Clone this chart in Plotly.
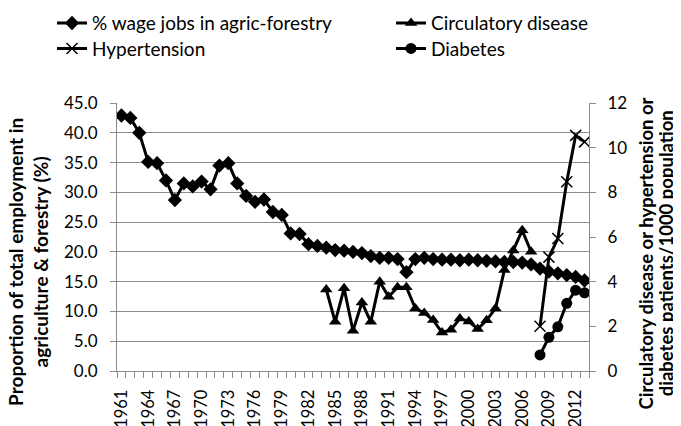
import plotly.graph_objects as go

years = [1961, 1962, 1963, 1964, 1965, 1966, 1967, 1968, 1969, 1970,
         1971, 1972, 1973, 1974, 1975, 1976, 1977, 1978, 1979, 1980,
         1981, 1982, 1983, 1984, 1985, 1986, 1987, 1988, 1989, 1990,
         1991, 1992, 1993, 1994, 1995, 1996, 1997, 1998, 1999, 2000,
         2001, 2002, 2003, 2004, 2005, 2006, 2007, 2008, 2009, 2010,
         2011, 2012, 2013]
wage_pct = [42.9, 42.5, 40.0, 35.1, 34.9, 32.0, 28.7, 31.5, 31.0, 31.8,
            30.5, 34.5, 34.9, 31.5, 29.4, 28.4, 28.8, 26.7, 26.2, 23.1,
            23.0, 21.3, 21.0, 20.7, 20.3, 20.2, 20.0, 19.8, 19.3, 19.0,
            19.0, 18.8, 16.6, 18.8, 19.0, 18.8, 18.7, 18.7, 18.6, 18.7,
            18.6, 18.5, 18.4, 18.3, 18.3, 18.2, 17.9, 17.2, 16.7, 16.4,
            16.1, 15.8, 15.2]

circ_years = [1984, 1985, 1986, 1987, 1988, 1989, 1990, 1991, 1992, 1993,
              1994, 1995, 1996, 1997, 1998, 1999, 2000, 2001, 2002, 2003,
              2004, 2005, 2006, 2007]
circulatory = [3.65, 2.2, 3.7, 1.8, 3.07, 2.2, 4.0, 3.32, 3.75, 3.75,
               2.8, 2.6, 2.28, 1.72, 1.85, 2.35, 2.22, 1.88, 2.27, 2.8,
               4.52, 5.4, 6.3, 5.34]

hyp_years = [2008, 2009, 2010, 2011, 2012, 2013]
hypertension = [2.0, 5.1, 5.93, 8.47, 10.55, 10.26]

diab_years = [2008, 2009, 2010, 2011, 2012, 2013]
diabetes = [0.72, 1.51, 1.98, 3.03, 3.62, 3.5]

x_tick_years = [1961, 1964, 1967, 1970, 1973, 1976, 1979, 1982, 1985,
                1988, 1991, 1994, 1997, 2000, 2003, 2006, 2009, 2012]

left_title = ["Proportion of total employment in",
              "agriculture &amp; forestry (%)"]
right_title = ["Circulatory disease or hypertension or",
               "diabetes patients/1000 population"]

FONT = "Lato"
GRID = "#8c8c8c"
LEG_FONT = 19

fig = go.Figure()
fig.add_trace(go.Scatter(
    x=years, y=wage_pct, name="% wage jobs in agric-forestry",
    mode="lines+markers", line=dict(color="black", width=3),
    marker=dict(symbol="diamond", size=11, color="black"),
    legend="legend"))
fig.add_trace(go.Scatter(
    x=circ_years, y=circulatory, name="Circulatory disease", yaxis="y2",
    mode="lines+markers", line=dict(color="black", width=3),
    marker=dict(symbol="triangle-up", size=11, color="black"),
    legend="legend2"))
fig.add_trace(go.Scatter(
    x=hyp_years, y=hypertension, name="Hypertension", yaxis="y2",
    mode="lines+markers", line=dict(color="black", width=3),
    marker=dict(symbol="x-thin", size=11, color="black",
                line=dict(color="black", width=1.5)),
    legend="legend3"))
fig.add_trace(go.Scatter(
    x=diab_years, y=diabetes, name="Diabetes", yaxis="y2",
    mode="lines+markers", line=dict(color="black", width=3),
    marker=dict(symbol="circle", size=11, color="black"),
    legend="legend4"))


def leg(x, y):
    return dict(x=x, y=y, xanchor="left", yanchor="middle",
                bgcolor="rgba(0,0,0,0)", font=dict(size=LEG_FONT))


# The page body adds an 8px offset, so the figure is sized to fit the window.
fig.update_layout(
    width=673, height=418,
    margin=dict(l=109, r=92, t=95, b=55, autoexpand=False),
    paper_bgcolor="white", plot_bgcolor="white",
    font=dict(family=FONT, size=17, color="black"),
    showlegend=True,
    legend=leg(-0.1377, 1.298),
    legend2=leg(0.5805, 1.298),
    legend3=leg(-0.1377, 1.203),
    legend4=leg(0.5805, 1.203),
    xaxis=dict(
        range=[1960.5, 2013.5], tickmode="array", tickvals=x_tick_years,
        ticktext=[str(v) for v in x_tick_years], tickangle=-90,
        ticks="outside", ticklen=6, tickcolor="rgba(0,0,0,0)",
        ticklabelstandoff=5, automargin=False,
        minor=dict(ticks="outside", tick0=1960.5, dtick=1, ticklen=6,
                   tickcolor=GRID, showgrid=False),
        showline=True, linecolor=GRID, linewidth=1, showgrid=False,
        zeroline=False, tickfont=dict(size=16.5)),
    yaxis=dict(
        range=[0, 45], dtick=5, tick0=0, tickformat=".1f",
        ticks="outside", ticklen=6, tickcolor=GRID,
        ticklabelstandoff=9, automargin=False,
        showline=True, linecolor=GRID, linewidth=1,
        showgrid=True, gridcolor=GRID, gridwidth=1, zeroline=False,
        tickfont=dict(size=17)),
    yaxis2=dict(
        range=[0, 12], dtick=2, tick0=0, overlaying="y", side="right",
        ticks="outside", ticklen=6, tickcolor=GRID,
        ticklabelstandoff=8, automargin=False,
        showline=True, linecolor=GRID, linewidth=1,
        showgrid=False, zeroline=False, tickfont=dict(size=17)),
)

fig.add_annotation(
    text="<b>" + left_title[0] + "</b><br><b>" + left_title[1] + "</b>",
    xref="paper", yref="paper", x=-0.1875, y=0.405, xanchor="center",
    yanchor="middle", textangle=-90, showarrow=False,
    font=dict(family=FONT, size=19, color="black"), align="center")
for line_text, xpos in zip(right_title, [1.1215, 1.1635]):
    fig.add_annotation(
        text="<b>" + line_text + "</b>",
        xref="paper", yref="paper", x=xpos, y=0.44, xanchor="center",
        yanchor="middle", textangle=-90, showarrow=False,
        font=dict(family=FONT, size=18.5, color="black"), align="center")

fig.write_html("out.html")
